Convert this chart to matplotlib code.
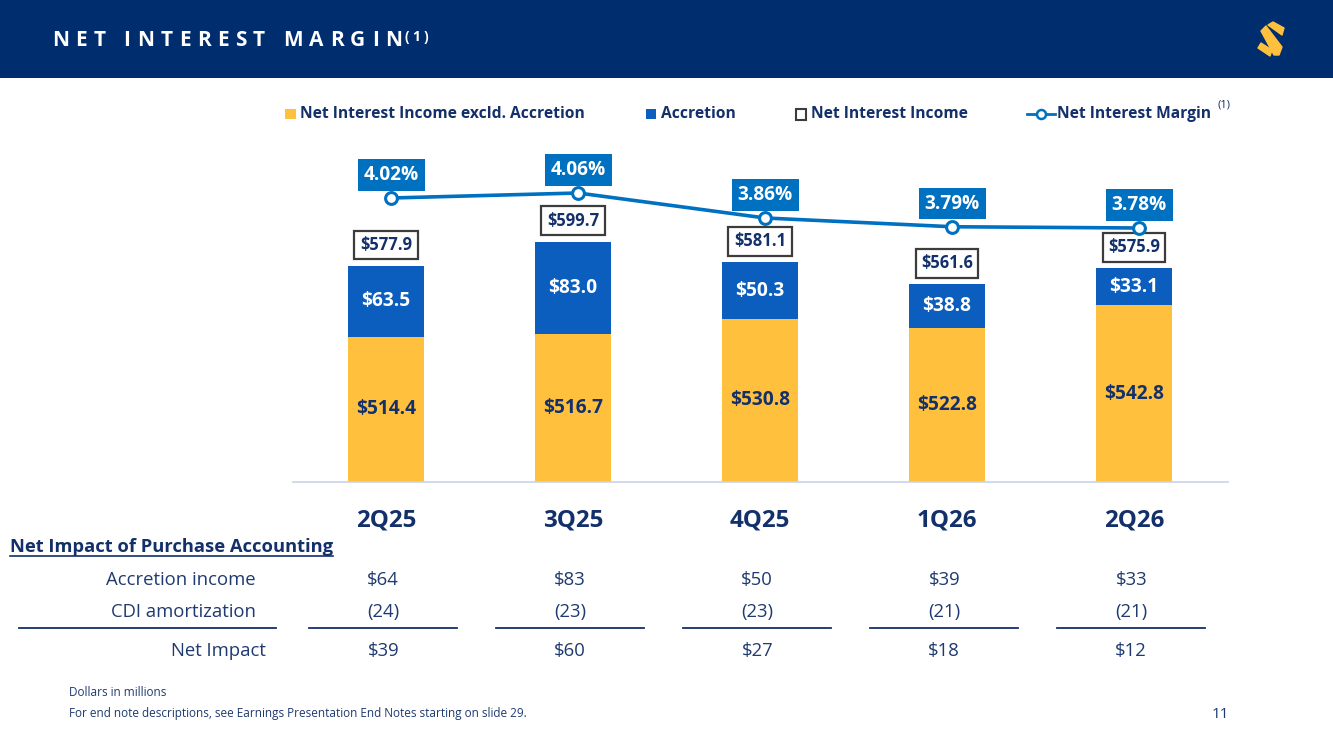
import matplotlib
matplotlib.use("Agg")
import matplotlib.pyplot as plt
from matplotlib.patches import Rectangle, Polygon
import matplotlib.transforms as mtransforms
import numpy as np

plt.rcParams['font.family'] = ['Open Sans', 'DejaVu Sans']

# ---------------- data ----------------
quarters = ["2Q25", "3Q25", "4Q25", "1Q26", "2Q26"]
nii_excl = [514.4, 516.7, 530.8, 522.8, 542.8]
accretion = [63.5, 83.0, 50.3, 38.8, 33.1]
nii_total = [577.9, 599.7, 581.1, 561.6, 575.9]
nim = [4.02, 4.06, 3.86, 3.79, 3.78]
row_labels = ["Accretion income", "CDI amortization", "Net Impact"]
tbl_accretion = ["$64", "$83", "$50", "$39", "$33"]
tbl_cdi = ["(24)", "(23)", "(23)", "(21)", "(21)"]
tbl_net = ["$39", "$60", "$27", "$18", "$12"]

# ---------------- style ----------------
W, H = 1333, 749
NAVY = "#13306A"
TXT = "#1F3A70"
HEADER = "#002D6E"
YELLOW = "#FFC03D"
BLUE = "#0B5EBD"
NIMBLUE = "#0070C0"

fig = plt.figure(figsize=(W / 100, H / 100), dpi=100)
bg = fig.add_axes([0, 0, 1, 1], zorder=0)
bg.set_xlim(0, W)
bg.set_ylim(H, 0)
bg.axis('off')
r = fig.canvas.get_renderer()


def text_w(s, size, weight='normal'):
    t = bg.text(0, 0, s, fontsize=size, fontweight=weight)
    w = t.get_window_extent(r).width
    t.remove()
    return w


def fit(s, target, weight='normal', base=10.0):
    return base * target / text_w(s, base, weight)


# header band
bg.add_patch(Rectangle((0, 0), W, 78, color=HEADER, lw=0))

# letter-spaced title
title = "NET INTEREST MARGIN"
tsize = 15
widths = []
for ch in title:
    widths.append(tsize * 100 / 72 * 0.25 if ch == " " else text_w(ch, tsize, 'bold'))
track = (350 - sum(widths)) / (len(title) - 1)
xp = 52
for ch, w in zip(title, widths):
    if ch != " ":
        bg.text(xp, 40, ch, fontsize=tsize, fontweight='bold', color='white',
                ha='left', va='center')
    xp += w + track
xp = xp - track + 3
for ch in "(1)":
    bg.text(xp, 37, ch, fontsize=10, fontweight='bold', color='white',
            ha='left', va='center')
    xp += text_w(ch, 10, 'bold') + 3

# logo (decoration)
for pts in [
    [(1268, 25), (1273, 22), (1284, 28), (1282, 35)],
    [(1261, 31), (1266, 26), (1282, 47), (1279, 55), (1274, 55)],
    [(1258, 48), (1261, 43), (1272, 50), (1270, 56)],
]:
    bg.add_patch(Polygon(pts, closed=True, fc=YELLOW, ec=YELLOW, lw=1, joinstyle='round'))

# ---------------- chart ----------------
ax = fig.add_axes([292.5 / W, 1 - 482 / H, 935 / W, 342 / H], zorder=2)
ax.patch.set_visible(False)
x = np.arange(len(quarters))
bw = 0.406
ax.bar(x, nii_excl, width=bw, color=YELLOW, zorder=2)
ax.bar(x, accretion, bottom=nii_excl, width=bw, color=BLUE, zorder=2)
ax.set_xlim(-0.5, 4.5)
ax.set_ylim(384.7, 690.6)
for s in ['top', 'left', 'right']:
    ax.spines[s].set_visible(False)
ax.spines['bottom'].set_color('#C7D4EA')
ax.spines['bottom'].set_linewidth(1.2)
ax.set_yticks([])
ax.set_xticks(x)
cat_size = fit("2Q25", 60, 'bold')
ax.set_xticklabels(quarters, fontsize=cat_size, fontweight='bold', color=NAVY)
ax.tick_params(axis='x', length=0, pad=19)

seg_size = fit("$514.4", 60, 'bold')
tot_size = fit("$577.9", 52, 'bold')
nim_size = fit("4.02%", 55, 'bold')
ylo = ax.get_ylim()[0]
for i in x:
    ax.text(i, (ylo + nii_excl[i]) / 2, f"${nii_excl[i]:.1f}", ha='center', va='center',
            fontsize=seg_size, fontweight='bold', color=NAVY, zorder=3)
    ax.text(i, nii_excl[i] + accretion[i] / 2, f"${accretion[i]:.1f}", ha='center',
            va='center', fontsize=seg_size, fontweight='bold', color='white', zorder=3)
    ax.annotate(f"${nii_total[i]:.1f}", (i, nii_total[i]), xytext=(0, 21),
                textcoords='offset pixels', ha='center', va='center',
                fontsize=tot_size, fontweight='bold', color=NAVY, zorder=3,
                bbox=dict(boxstyle='square,pad=0.33', fc='white', ec='#3C3C3C', lw=1.6))

ax2 = ax.twinx()
ax2.set_ylim(1.748, 4.484)
for s in ax2.spines.values():
    s.set_visible(False)
ax2.set_yticks([])
xl = x + 0.028
ax2.plot(xl, nim, color=NIMBLUE, lw=2.6, marker='o', ms=8.5, mfc='white',
         mec=NIMBLUE, mew=2.2, zorder=4, clip_on=False)
for i in x:
    ax2.annotate(f"{nim[i]:.2f}%", (xl[i], nim[i]), xytext=(0, 23),
                 textcoords='offset pixels', ha='center', va='center',
                 fontsize=nim_size, fontweight='bold', color='white', zorder=5,
                 bbox=dict(boxstyle='square,pad=0.3', fc=NIMBLUE, ec='none'))

# ---------------- legend ----------------
leg_size = fit("Net Interest Income excld. Accretion", 284, 'bold')
ly = 114
bg.add_patch(Rectangle((285, ly - 5), 11, 10, color=YELLOW, lw=0))
bg.text(300, ly, "Net Interest Income excld. Accretion", fontsize=leg_size,
        fontweight='bold', color=NAVY, ha='left', va='center')
bg.add_patch(Rectangle((646, ly - 5), 10, 10, color=BLUE, lw=0))
bg.text(661, ly, "Accretion", fontsize=leg_size, fontweight='bold', color=NAVY,
        ha='left', va='center')
bg.add_patch(Rectangle((796, ly - 5), 10, 11, fc='white', ec='#3C3C3C', lw=1.5))
bg.text(811, ly, "Net Interest Income", fontsize=leg_size, fontweight='bold',
        color=NAVY, ha='left', va='center')
bg.plot([1027, 1055], [ly, ly], color=NIMBLUE, lw=2)
bg.plot([1041], [ly], marker='o', ms=6.5, mfc='white', mec=NIMBLUE, mew=1.8)
t = bg.text(1057, ly, "Net Interest Margin", fontsize=leg_size, fontweight='bold',
            color=NAVY, ha='left', va='center')
tend = 1057 + text_w("Net Interest Margin", leg_size, 'bold')
bg.text(tend + 6, 105, "(1)", fontsize=8, color=NAVY, ha='left', va='center')

# ---------------- table ----------------
hdr = "Net Impact of Purchase Accounting"
hdr_size = fit(hdr, 323, 'bold')
bg.text(10, 547, hdr, fontsize=hdr_size, fontweight='bold', color=NAVY,
        ha='left', va='center')
bg.plot([10, 333], [556, 556], color=NAVY, lw=1.2)

tbl_size = fit("Accretion income", 149)
row_y = [580, 612, 651]
bg.text(256, row_y[0], row_labels[0], fontsize=tbl_size, color=TXT, ha='right', va='center')
bg.text(256, row_y[1], row_labels[1], fontsize=tbl_size, color=TXT, ha='right', va='center')
bg.text(266, row_y[2], row_labels[2], fontsize=tbl_size, color=TXT, ha='right', va='center')
bg.plot([19, 276], [628, 628], color=NAVY, lw=1.3)

colx = mtransforms.blended_transform_factory(ax.transData, bg.transData)
for i in x:
    for vals, yy in zip([tbl_accretion, tbl_cdi, tbl_net], row_y):
        bg.text(i - 0.015, yy, vals[i], transform=colx, fontsize=tbl_size, color=TXT,
                ha='center', va='center')
    bg.plot([i - 0.41, i + 0.38], [628, 628], transform=colx, color=NAVY, lw=1.3)

# ---------------- footnotes ----------------
fn = "For end note descriptions, see Earnings Presentation End Notes starting on slide 29."
fn_size = fit(fn, 461)
bg.text(69, 692, "Dollars in millions", fontsize=fn_size, color=TXT, ha='left', va='center')
bg.text(69, 714, fn, fontsize=fn_size, color=TXT, ha='left', va='center')
bg.text(1229, 714, "11", fontsize=11, color=TXT, ha='right', va='center')

fig.savefig("out.png", dpi=100)
